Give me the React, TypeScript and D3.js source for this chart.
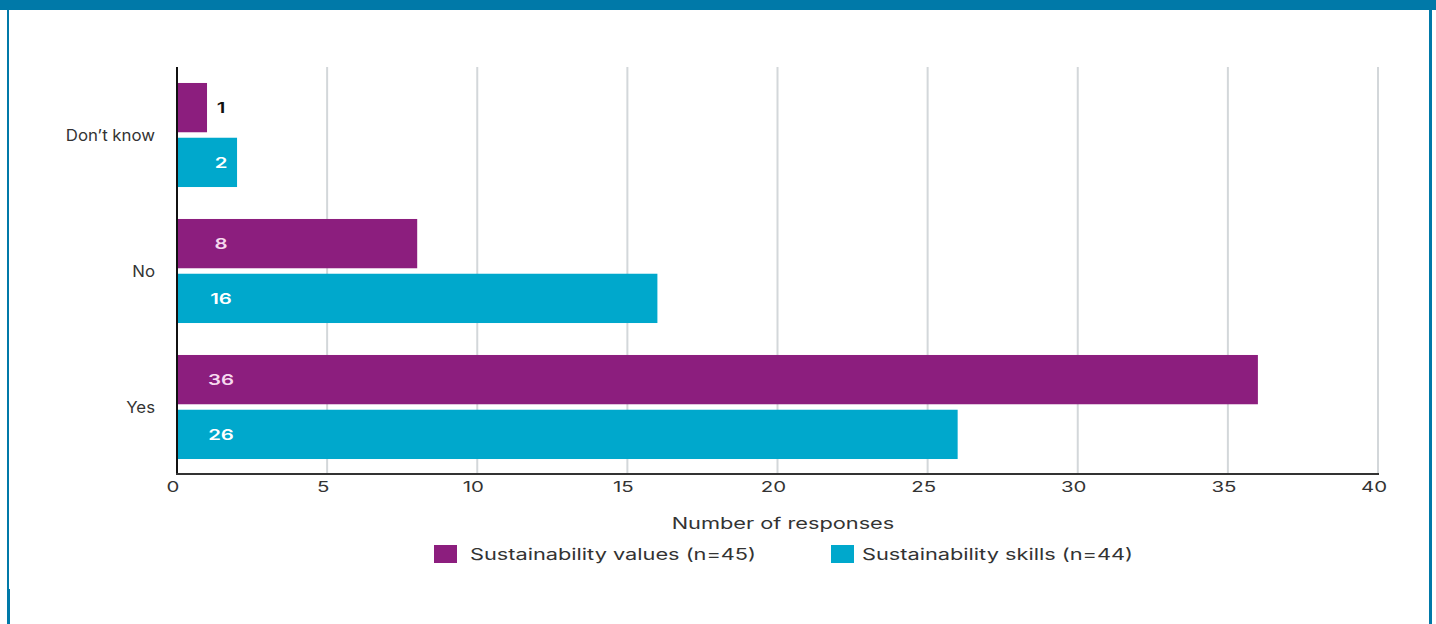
import React from "react";
import * as d3 from "d3";

const categories = ["Don\u2019t know", "No", "Yes"];
const seriesNames = ["Sustainability values (n=45)", "Sustainability skills (n=44)"];
const valuesSeries = [1, 8, 36];
const skillsSeries = [2, 16, 26];
const xTicks = [0, 5, 10, 15, 20, 25, 30, 35, 40];
const axisTitle = "Number of responses";

const W = 1436;
const H = 624;
const PURPLE = "#8C1E7E";
const TEAL = "#00A8CC";
const BORDER = "#0079A8";
const FONT = "Inter, 'Open Sans', sans-serif";
const SX = 1.36;

function WideText(props: {
  x: number;
  y: number;
  sx?: number;
  anchor?: "start" | "middle" | "end";
  size: number;
  weight?: number;
  fill: string;
  dy?: string;
  children: React.ReactNode;
}) {
  const { x, y, sx = SX, anchor = "start", size, weight = 400, fill, dy, children } = props;
  return (
    <text
      transform={`translate(${x},${y}) scale(${sx},1)`}
      textAnchor={anchor}
      fontSize={size}
      fontWeight={weight}
      fill={fill}
      dy={dy}
    >
      {children}
    </text>
  );
}

export default function App() {
  const x = d3.scaleLinear().domain([0, 40]).range([177, 1378]);
  const y = d3
    .scaleBand<string>()
    .domain(categories)
    .range([67, 475])
    .paddingInner(0.235)
    .paddingOuter(0.1175);
  const sub = d3
    .scaleBand<number>()
    .domain([0, 1])
    .range([0, y.bandwidth()])
    .paddingInner(0.1);
  const series = [valuesSeries, skillsSeries];
  const colors = [PURPLE, TEAL];

  return (
    <svg
      width={W}
      height={H}
      style={{ position: "absolute", left: 0, top: 0, background: "#fff" }}
      fontFamily={FONT}
    >
      {/* frame */}
      <rect x={0} y={0} width={W} height={10} fill={BORDER} />
      <rect x={7} y={0} width={2} height={H} fill={BORDER} />
      <rect x={7} y={589} width={3} height={H - 589} fill={BORDER} />
      <rect x={1429} y={0} width={3} height={H} fill={BORDER} />

      {/* gridlines */}
      {xTicks.filter((t) => t > 0).map((t) => (
        <line key={t} x1={x(t)} x2={x(t)} y1={67} y2={474} stroke="#D3D7DA" strokeWidth={2} />
      ))}

      {/* bars */}
      {categories.map((c, i) =>
        series.map((s, j) => (
          <rect
            key={c + j}
            x={x(0)}
            y={(y(c) as number) + (sub(j) as number)}
            width={x(s[i]) - x(0)}
            height={sub.bandwidth()}
            fill={colors[j]}
          />
        ))
      )}

      {/* value labels */}
      {categories.map((c, i) =>
        series.map((s, j) => {
          const outside = x(s[i]) - x(0) < 40;
          return (
            <WideText
              key={"l" + c + j}
              x={x(0) + 44}
              y={(y(c) as number) + (sub(j) as number) + sub.bandwidth() / 2}
              dy="0.35em"
              anchor="middle"
              size={15}
              weight={600}
              fill={outside ? "#111" : j === 0 ? "#F6D9EE" : "#FFFFFF"}
            >
              {s[i]}
            </WideText>
          );
        })
      )}

      {/* axes */}
      <line x1={177} x2={177} y1={67} y2={475} stroke="#111" strokeWidth={2} />
      <line x1={176} x2={1379} y1={474} y2={474} stroke="#333" strokeWidth={2} />

      {/* category labels */}
      {categories.map((c) => (
        <WideText
          key={"c" + c}
          x={155}
          y={(y(c) as number) + y.bandwidth() / 2}
          dy="0.35em"
          anchor="end"
          sx={1.05}
          size={16}
          fill="#333"
        >
          {c}
        </WideText>
      ))}

      {/* x tick labels */}
      {xTicks.map((t) => (
        <WideText key={"t" + t} x={x(t) - 4} y={492} anchor="middle" size={15} fill="#333">
          {t}
        </WideText>
      ))}

      <WideText x={783} y={529} anchor="middle" size={16} fill="#333">
        {axisTitle}
      </WideText>

      {/* legend */}
      <rect x={434} y={545} width={23} height={18} fill={PURPLE} />
      <WideText x={470} y={554} dy="0.35em" size={16} fill="#333">
        {seriesNames[0]}
      </WideText>
      <rect x={831} y={545} width={23} height={18} fill={TEAL} />
      <WideText x={862} y={554} dy="0.35em" size={16} fill="#333">
        {seriesNames[1]}
      </WideText>
    </svg>
  );
}
